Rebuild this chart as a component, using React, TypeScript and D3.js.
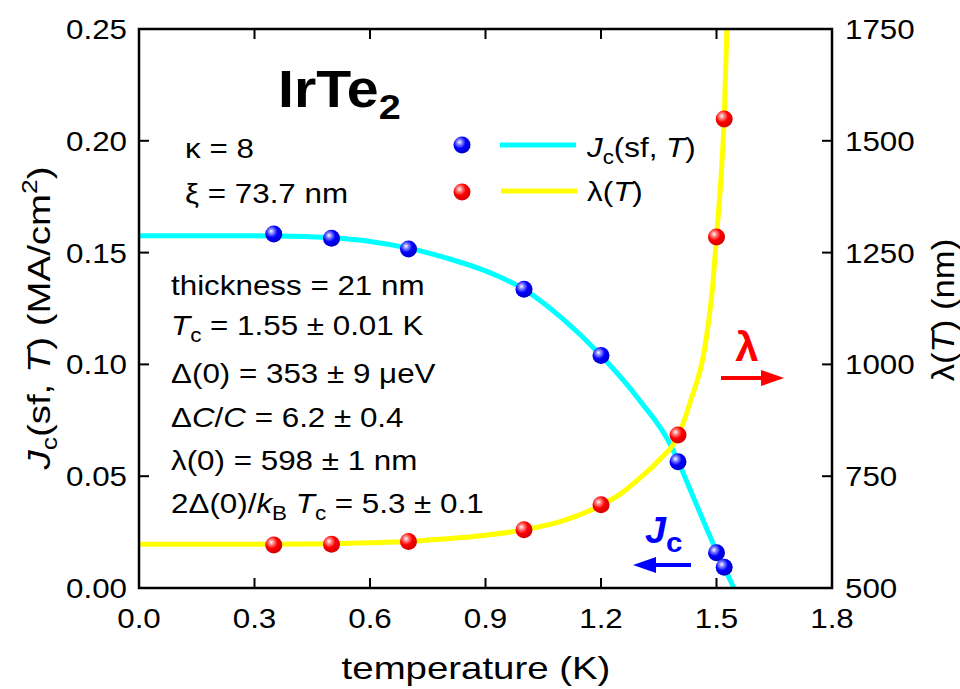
import React from "react";
import * as d3 from "d3";

const xTicks = [0.0, 0.3, 0.6, 0.9, 1.2, 1.5, 1.8];
const yLeftTicks = [0.0, 0.05, 0.1, 0.15, 0.2, 0.25];
const yRightTicks = [500, 750, 1000, 1250, 1500, 1750];

// measured points
const jcT = [0.35, 0.5, 0.7, 1.0, 1.2, 1.4, 1.5, 1.52];
const jcVal = [0.1583, 0.1564, 0.1516, 0.1336, 0.1040, 0.0565, 0.0158, 0.0093];
const lamT = [0.35, 0.5, 0.7, 1.0, 1.2, 1.4, 1.5, 1.52];
const lamVal = [596, 598, 604, 630, 686, 842, 1285, 1549];

// fit curves
const jcFitT = [0, 0.3, 0.4, 0.5, 0.6, 0.7, 0.8, 0.9, 1.0, 1.1, 1.2, 1.3, 1.383, 1.4, 1.45, 1.5, 1.52, 1.545];
const jcFitVal = [0.1575, 0.1575, 0.1573, 0.1566, 0.155, 0.152, 0.1475, 0.1418, 0.1336, 0.1205, 0.104, 0.084, 0.0632, 0.0568, 0.0365, 0.0165, 0.0093, 0.0];
const lamFitT = [0, 0.2, 0.35, 0.5, 0.6, 0.7, 0.8, 0.9, 1.0, 1.1, 1.2, 1.25, 1.3, 1.35, 1.4, 1.431, 1.474, 1.49, 1.5, 1.513, 1.52, 1.527];
const lamFitVal = [598, 598, 598, 599, 601, 604, 610, 618, 630, 650, 685, 710, 745, 785, 840, 914, 1062, 1175, 1285, 1435, 1550, 1750];

const L = 139, R = 832, TOP = 29, B = 588;
const SX = 1.12;
const FS = 28;
const FONT = "'Liberation Sans', Arial, sans-serif";

const x = d3.scaleLinear().domain([0, 1.8]).range([L, R]);
const yL = d3.scaleLinear().domain([0, 0.25]).range([B, TOP]);
const yR = d3.scaleLinear().domain([500, 1750]).range([B, TOP]);

function Txt(props: any) {
  const { x, y, size = FS, anchor = "start", rotate = 0, sx = SX, weight = "normal", fill = "#000", children } = props;
  return (
    <text
      transform={`translate(${x},${y}) rotate(${rotate}) scale(${sx},1)`}
      fontSize={size}
      fontFamily={FONT}
      textAnchor={anchor}
      fontWeight={weight}
      fill={fill}
    >
      {children}
    </text>
  );
}

export default function App() {
  const jcLine = d3
    .line<number>()
    .x((_, i) => x(jcFitT[i]))
    .y((d) => yL(d))
    .curve(d3.curveMonotoneX)(jcFitVal) as string;
  const lamLine = d3
    .line<number>()
    .x((_, i) => x(lamFitT[i]))
    .y((d) => yR(d))
    .curve(d3.curveMonotoneX)(lamFitVal) as string;

  const SUB = 20;
  return (
    <svg width={960} height={689} style={{ position: "absolute", left: 0, top: 0, background: "#fff" }}>
      <defs>
        <radialGradient id="gBlue" cx="0.38" cy="0.36" r="0.65" fx="0.35" fy="0.33">
          <stop offset="0" stopColor="#ffffff" />
          <stop offset="0.22" stopColor="#8a8aff" />
          <stop offset="0.55" stopColor="#0000ff" />
          <stop offset="1" stopColor="#0000c8" />
        </radialGradient>
        <radialGradient id="gRed" cx="0.38" cy="0.36" r="0.65" fx="0.35" fy="0.33">
          <stop offset="0" stopColor="#ffffff" />
          <stop offset="0.22" stopColor="#ff8a8a" />
          <stop offset="0.55" stopColor="#ff0000" />
          <stop offset="1" stopColor="#d20000" />
        </radialGradient>
        <clipPath id="clip">
          <rect x={L} y={TOP} width={R - L} height={B - TOP} />
        </clipPath>
      </defs>

      {/* curves */}
      <g clipPath="url(#clip)">
        <path d={jcLine} fill="none" stroke="#00ffff" strokeWidth={5} />
        <path d={lamLine} fill="none" stroke="#ffff00" strokeWidth={5} />
      </g>

      {/* points */}
      {lamT.map((t, i) => (
        <circle key={"r" + i} cx={x(t)} cy={yR(lamVal[i])} r={8.5} fill="url(#gRed)" />
      ))}
      {jcT.map((t, i) => (
        <circle key={"b" + i} cx={x(t)} cy={yL(jcVal[i])} r={8.5} fill="url(#gBlue)" />
      ))}

      {/* frame */}
      <rect x={L} y={TOP} width={R - L} height={B - TOP} fill="none" stroke="#000" strokeWidth={2.5} />

      {/* ticks */}
      {xTicks.map((t, i) => (
        <g key={"xt" + i}>
          <line x1={x(t)} x2={x(t)} y1={B} y2={B - 10} stroke="#000" strokeWidth={2} />
          <line x1={x(t)} x2={x(t)} y1={TOP} y2={TOP + 10} stroke="#000" strokeWidth={2} />
          <Txt x={x(t)} y={628} anchor="middle">{d3.format(".1f")(t)}</Txt>
        </g>
      ))}
      {yLeftTicks.map((t, i) => (
        <g key={"yl" + i}>
          <line x1={L} x2={L + 10} y1={yL(t)} y2={yL(t)} stroke="#000" strokeWidth={2} />
          <Txt x={127} y={yL(t) + 10} anchor="end">{d3.format(".2f")(t)}</Txt>
        </g>
      ))}
      {yRightTicks.map((t, i) => (
        <g key={"yr" + i}>
          <line x1={R} x2={R - 10} y1={yR(t)} y2={yR(t)} stroke="#000" strokeWidth={2} />
          <Txt x={845} y={yR(t) + 10}>{t}</Txt>
        </g>
      ))}

      {/* axis titles */}
      <Txt x={476} y={679} size={32} anchor="middle" sx={1.2}>temperature (K)</Txt>
      <Txt x={50} y={318} size={32} anchor="middle" rotate={-90} sx={1.2}>
        <tspan fontStyle="italic">J</tspan>
        <tspan fontSize={22} dy={7}>c</tspan>
        <tspan dy={-7}>(sf, </tspan>
        <tspan fontStyle="italic">T</tspan>
        <tspan>) (MA/cm</tspan>
        <tspan fontSize={22} dy={-13}>2</tspan>
        <tspan dy={13}>)</tspan>
      </Txt>
      <Txt x={954} y={310} size={31} anchor="middle" rotate={-90} sx={1.12}>
        λ(<tspan fontStyle="italic">T</tspan>) (nm)
      </Txt>

      {/* title */}
      <Txt x={278} y={107} size={52} weight="bold" sx={1.1}>
        IrTe<tspan fontSize={36} dy={12}>2</tspan>
      </Txt>

      {/* annotations */}
      <Txt x={185} y={158}>κ = 8</Txt>
      <Txt x={185} y={203}>ξ = 73.7 nm</Txt>
      <Txt x={171} y={295}>thickness = 21 nm</Txt>
      <Txt x={171} y={335}>
        <tspan fontStyle="italic">T</tspan>
        <tspan fontSize={SUB} dy={7}>c</tspan>
        <tspan dy={-7}> = 1.55 ± 0.01 K</tspan>
      </Txt>
      <Txt x={171} y={383}>Δ(0) = 353 ± 9 μeV</Txt>
      <Txt x={171} y={427}>
        Δ<tspan fontStyle="italic">C</tspan>/<tspan fontStyle="italic">C</tspan> = 6.2 ± 0.4
      </Txt>
      <Txt x={171} y={470}>λ(0) = 598 ± 1 nm</Txt>
      <Txt x={171} y={513}>
        2Δ(0)/<tspan fontStyle="italic">k</tspan>
        <tspan fontSize={SUB} dy={7}>B</tspan>
        <tspan dy={-7} fontStyle="italic"> T</tspan>
        <tspan fontSize={SUB} dy={7}>c</tspan>
        <tspan dy={-7}> = 5.3 ± 0.1</tspan>
      </Txt>

      {/* legend */}
      <circle cx={462} cy={145} r={8.5} fill="url(#gBlue)" />
      <line x1={500} x2={576} y1={145} y2={145} stroke="#00ffff" strokeWidth={5} />
      <Txt x={587} y={157}>
        <tspan fontStyle="italic">J</tspan>
        <tspan fontSize={SUB} dy={7}>c</tspan>
        <tspan dy={-7}>(sf, </tspan>
        <tspan fontStyle="italic">T</tspan>)
      </Txt>
      <circle cx={462} cy={192} r={8.5} fill="url(#gRed)" />
      <line x1={501} x2={577} y1={191} y2={191} stroke="#ffff00" strokeWidth={5} />
      <Txt x={587} y={201}>
        λ(<tspan fontStyle="italic">T</tspan>)
      </Txt>

      {/* direction arrows */}
      <Txt x={747} y={361} size={40} weight="bold" fill="#ff0000" anchor="middle" sx={1.05}>λ</Txt>
      <line x1={721} x2={766} y1={378} y2={378} stroke="#ff0000" strokeWidth={4} />
      <path d="M784,378 L761,370 L761,386 Z" fill="#ff0000" />

      <Txt x={645} y={543} size={36} weight="bold" fill="#0000ff" sx={1.05}>
        <tspan fontStyle="italic">J</tspan>
        <tspan fontSize={28} dy={9}>c</tspan>
      </Txt>
      <line x1={691} x2={651} y1={565} y2={565} stroke="#0000ff" strokeWidth={4} />
      <path d="M633,565 L656,557 L656,573 Z" fill="#0000ff" />
    </svg>
  );
}
